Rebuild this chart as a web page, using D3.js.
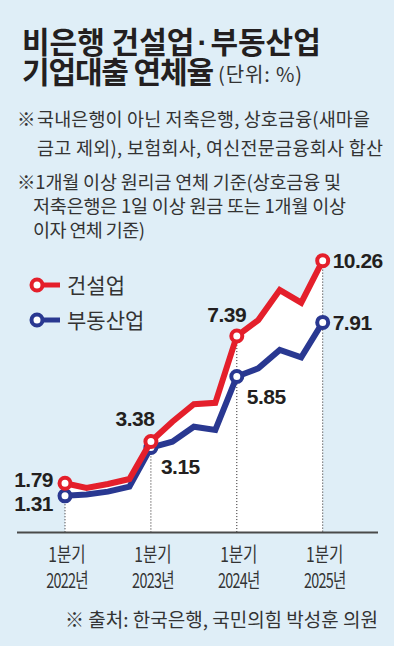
<!DOCTYPE html>
<html>
<head>
<meta charset="utf-8">
<script src="https://cdn.jsdelivr.net/npm/d3@7"></script>
<style>
  body { margin: 0; background: #dfeef7; }
  svg { display: block; }
</style>
</head>
<body>
<script>
// quarterly data, 2022 Q1 ~ 2025 Q1
var quarters = ["2022Q1","2022Q2","2022Q3","2022Q4","2023Q1","2023Q2","2023Q3","2023Q4","2024Q1","2024Q2","2024Q3","2024Q4","2025Q1"];
var construction = [1.79, 1.61, 1.76, 1.95, 3.38, 4.13, 4.80, 4.85, 7.39, 8.00, 9.14, 8.66, 10.26];
var realEstate = [1.31, 1.36, 1.47, 1.66, 3.15, 3.37, 3.94, 3.82, 5.85, 6.16, 6.86, 6.58, 7.91];
var tickQuarters = ["2022Q1","2023Q1","2024Q1","2025Q1"];
var tickLabels = [["1분기","2022년"],["1분기","2023년"],["1분기","2024년"],["1분기","2025년"]];
var seriesNames = ["건설업","부동산업"];

var width = 394, height = 646;
var red = "#e41f2b", blue = "#293891", ink = "#231f20";
var kr = "'Noto Sans CJK KR', sans-serif";
var num = "'Liberation Sans', Arial, sans-serif";

var svg = d3.select("body").append("svg")
	.attr("width", width)
	.attr("height", height);

svg.append("rect").attr("width", width).attr("height", height).attr("fill", "#dfeef7");

// title
var title = svg.append("g").attr("font-family", kr).attr("fill", ink);
var t1 = title.append("text").attr("x", 22).attr("y", 53)
	.attr("font-size", 30).attr("font-weight", 700);
t1.append("tspan").text("비은행 건설업");
t1.append("tspan").attr("dx", 3).attr("font-family", num).text("·");
t1.append("tspan").attr("dx", 3).text("부동산업");
title.append("text").attr("x", 22).attr("y", 83)
	.attr("font-size", 30).attr("font-weight", 700)
	.attr("textLength", 192).attr("lengthAdjust", "spacing")
	.text("기업대출 연체율");
title.append("text").attr("x", 218).attr("y", 82)
	.attr("font-size", 20).attr("fill", "#333")
	.attr("textLength", 84).attr("lengthAdjust", "spacing")
	.text("(단위: %)");

// notes: [x, y, width, text]
var noteLines = [
	[17, 126, 15, "※"],
	[37, 126, 333, "국내은행이 아닌 저축은행, 상호금융(새마을"],
	[37, 155, 346, "금고 제외), 보험회사, 여신전문금융회사 합산"],
	[17, 189, 324, "※1개월 이상 원리금 연체 기준(상호금융 및"],
	[33, 213, 313, "저축은행은 1일 이상 원금 또는 1개월 이상"],
	[33, 237, 112, "이자 연체 기준)"]
];
svg.append("g").attr("font-family", kr).attr("font-size", 18.5).attr("fill", "#333")
	.selectAll("text")
	.data(noteLines)
	.enter().append("text")
	.attr("x", function(d) { return d[0]; })
	.attr("y", function(d) { return d[1]; })
	.attr("textLength", function(d) { return d[2]; })
	.attr("lengthAdjust", "spacing")
	.text(function(d) { return d[3]; });

// scales
var x = d3.scalePoint().domain(quarters).range([65, 322.7]);
var y = d3.scaleLinear().domain([0, 12]).range([530.3, 214.9]);

var rows = quarters.map(function(q, i) {
	return {q: q, c: construction[i], r: realEstate[i]};
});

// white area under the 건설업 line
svg.append("path")
	.datum(rows)
	.attr("fill", "#fff")
	.attr("d", d3.area()
		.x(function(d) { return x(d.q); })
		.y0(532)
		.y1(function(d) { return y(d.c); }));

// dotted guides from each Q1 point
svg.selectAll(".guide")
	.data(tickQuarters)
	.enter().append("line")
	.attr("class", "guide")
	.attr("x1", function(d) { return x(d); })
	.attr("x2", function(d) { return x(d); })
	.attr("y1", function(d) { return y(construction[quarters.indexOf(d)]); })
	.attr("y2", 532)
	.attr("stroke", ink)
	.attr("stroke-width", 1)
	.attr("stroke-dasharray", "1,2");

// baseline
svg.append("line")
	.attr("x1", 17).attr("x2", 378)
	.attr("y1", 532.5).attr("y2", 532.5)
	.attr("stroke", "#4a4a4a").attr("stroke-width", 2);

// x labels
tickQuarters.forEach(function(q, i) {
	var g = svg.append("g")
		.attr("font-family", kr).attr("font-size", 20).attr("fill", "#333")
		.attr("text-anchor", "middle");
	g.append("text")
		.attr("transform", "translate(" + (x(q) + 2) + ",562) scale(0.78,1)")
		.text(tickLabels[i][0]);
	g.append("text")
		.attr("transform", "translate(" + (x(q) + 2) + ",588) scale(0.72,1)")
		.attr("letter-spacing", -1)
		.text(tickLabels[i][1]);
});

// lines
var line = function(key) {
	return d3.line()
		.x(function(d) { return x(d.q); })
		.y(function(d) { return y(d[key]); });
};

[["r", blue], ["c", red]].forEach(function(s) {
	svg.append("path")
		.datum(rows)
		.attr("fill", "none")
		.attr("stroke", s[1])
		.attr("stroke-width", 6)
		.attr("stroke-linejoin", "miter")
		.attr("d", line(s[0]));

	svg.selectAll(".dot-" + s[0])
		.data(rows.filter(function(d) { return tickQuarters.indexOf(d.q) >= 0; }))
		.enter().append("circle")
		.attr("class", "dot-" + s[0])
		.attr("cx", function(d) { return x(d.q); })
		.attr("cy", function(d) { return y(d[s[0]]); })
		.attr("r", 5.5)
		.attr("fill", "#fff")
		.attr("stroke", s[1])
		.attr("stroke-width", 4);
});

// value labels: [quarter, key, dx, dy, anchor]
var labelPos = [
	["2022Q1", "c", -12, 4, "end"],
	["2022Q1", "r", -12, 15, "end"],
	["2023Q1", "c", -16, -15, "middle"],
	["2023Q1", "r", 10, 26, "start"],
	["2024Q1", "c", -10, -14, "middle"],
	["2024Q1", "r", 10, 27, "start"],
	["2025Q1", "c", 10, 7, "start"],
	["2025Q1", "r", 10, 8, "start"]
];
svg.selectAll(".val")
	.data(labelPos)
	.enter().append("text")
	.attr("class", "val")
	.attr("x", function(d) { return x(d[0]) + d[2]; })
	.attr("y", function(d) {
		var v = d[1] == "c" ? construction : realEstate;
		return y(v[quarters.indexOf(d[0])]) + d[3];
	})
	.attr("text-anchor", function(d) { return d[4]; })
	.attr("font-family", num)
	.attr("font-size", 21)
	.attr("font-weight", 700)
	.attr("letter-spacing", -0.5)
	.attr("fill", ink)
	.text(function(d) {
		var v = d[1] == "c" ? construction : realEstate;
		return v[quarters.indexOf(d[0])].toFixed(2);
	});

// legend
var legend = svg.selectAll(".legend")
	.data(seriesNames)
	.enter().append("g")
	.attr("class", "legend")
	.attr("transform", function(d, i) { return "translate(37," + (285 + i * 35) + ")"; });
legend.append("line")
	.attr("x1", 0).attr("x2", 23)
	.attr("stroke", function(d, i) { return i ? blue : red; })
	.attr("stroke-width", 5);
legend.append("circle")
	.attr("r", 5.5)
	.attr("fill", "#fff")
	.attr("stroke", function(d, i) { return i ? blue : red; })
	.attr("stroke-width", 4);
legend.append("text")
	.attr("x", 30).attr("y", 8)
	.attr("font-family", kr).attr("font-size", 21)
	.attr("fill", "#333")
	.text(function(d) { return d; });

// source
svg.append("text")
	.attr("x", 378).attr("y", 627)
	.attr("text-anchor", "end")
	.attr("font-family", kr).attr("font-size", 19)
	.attr("fill", "#333")
	.text("※ 출처: 한국은행, 국민의힘 박성훈 의원");
</script>
</body>
</html>
